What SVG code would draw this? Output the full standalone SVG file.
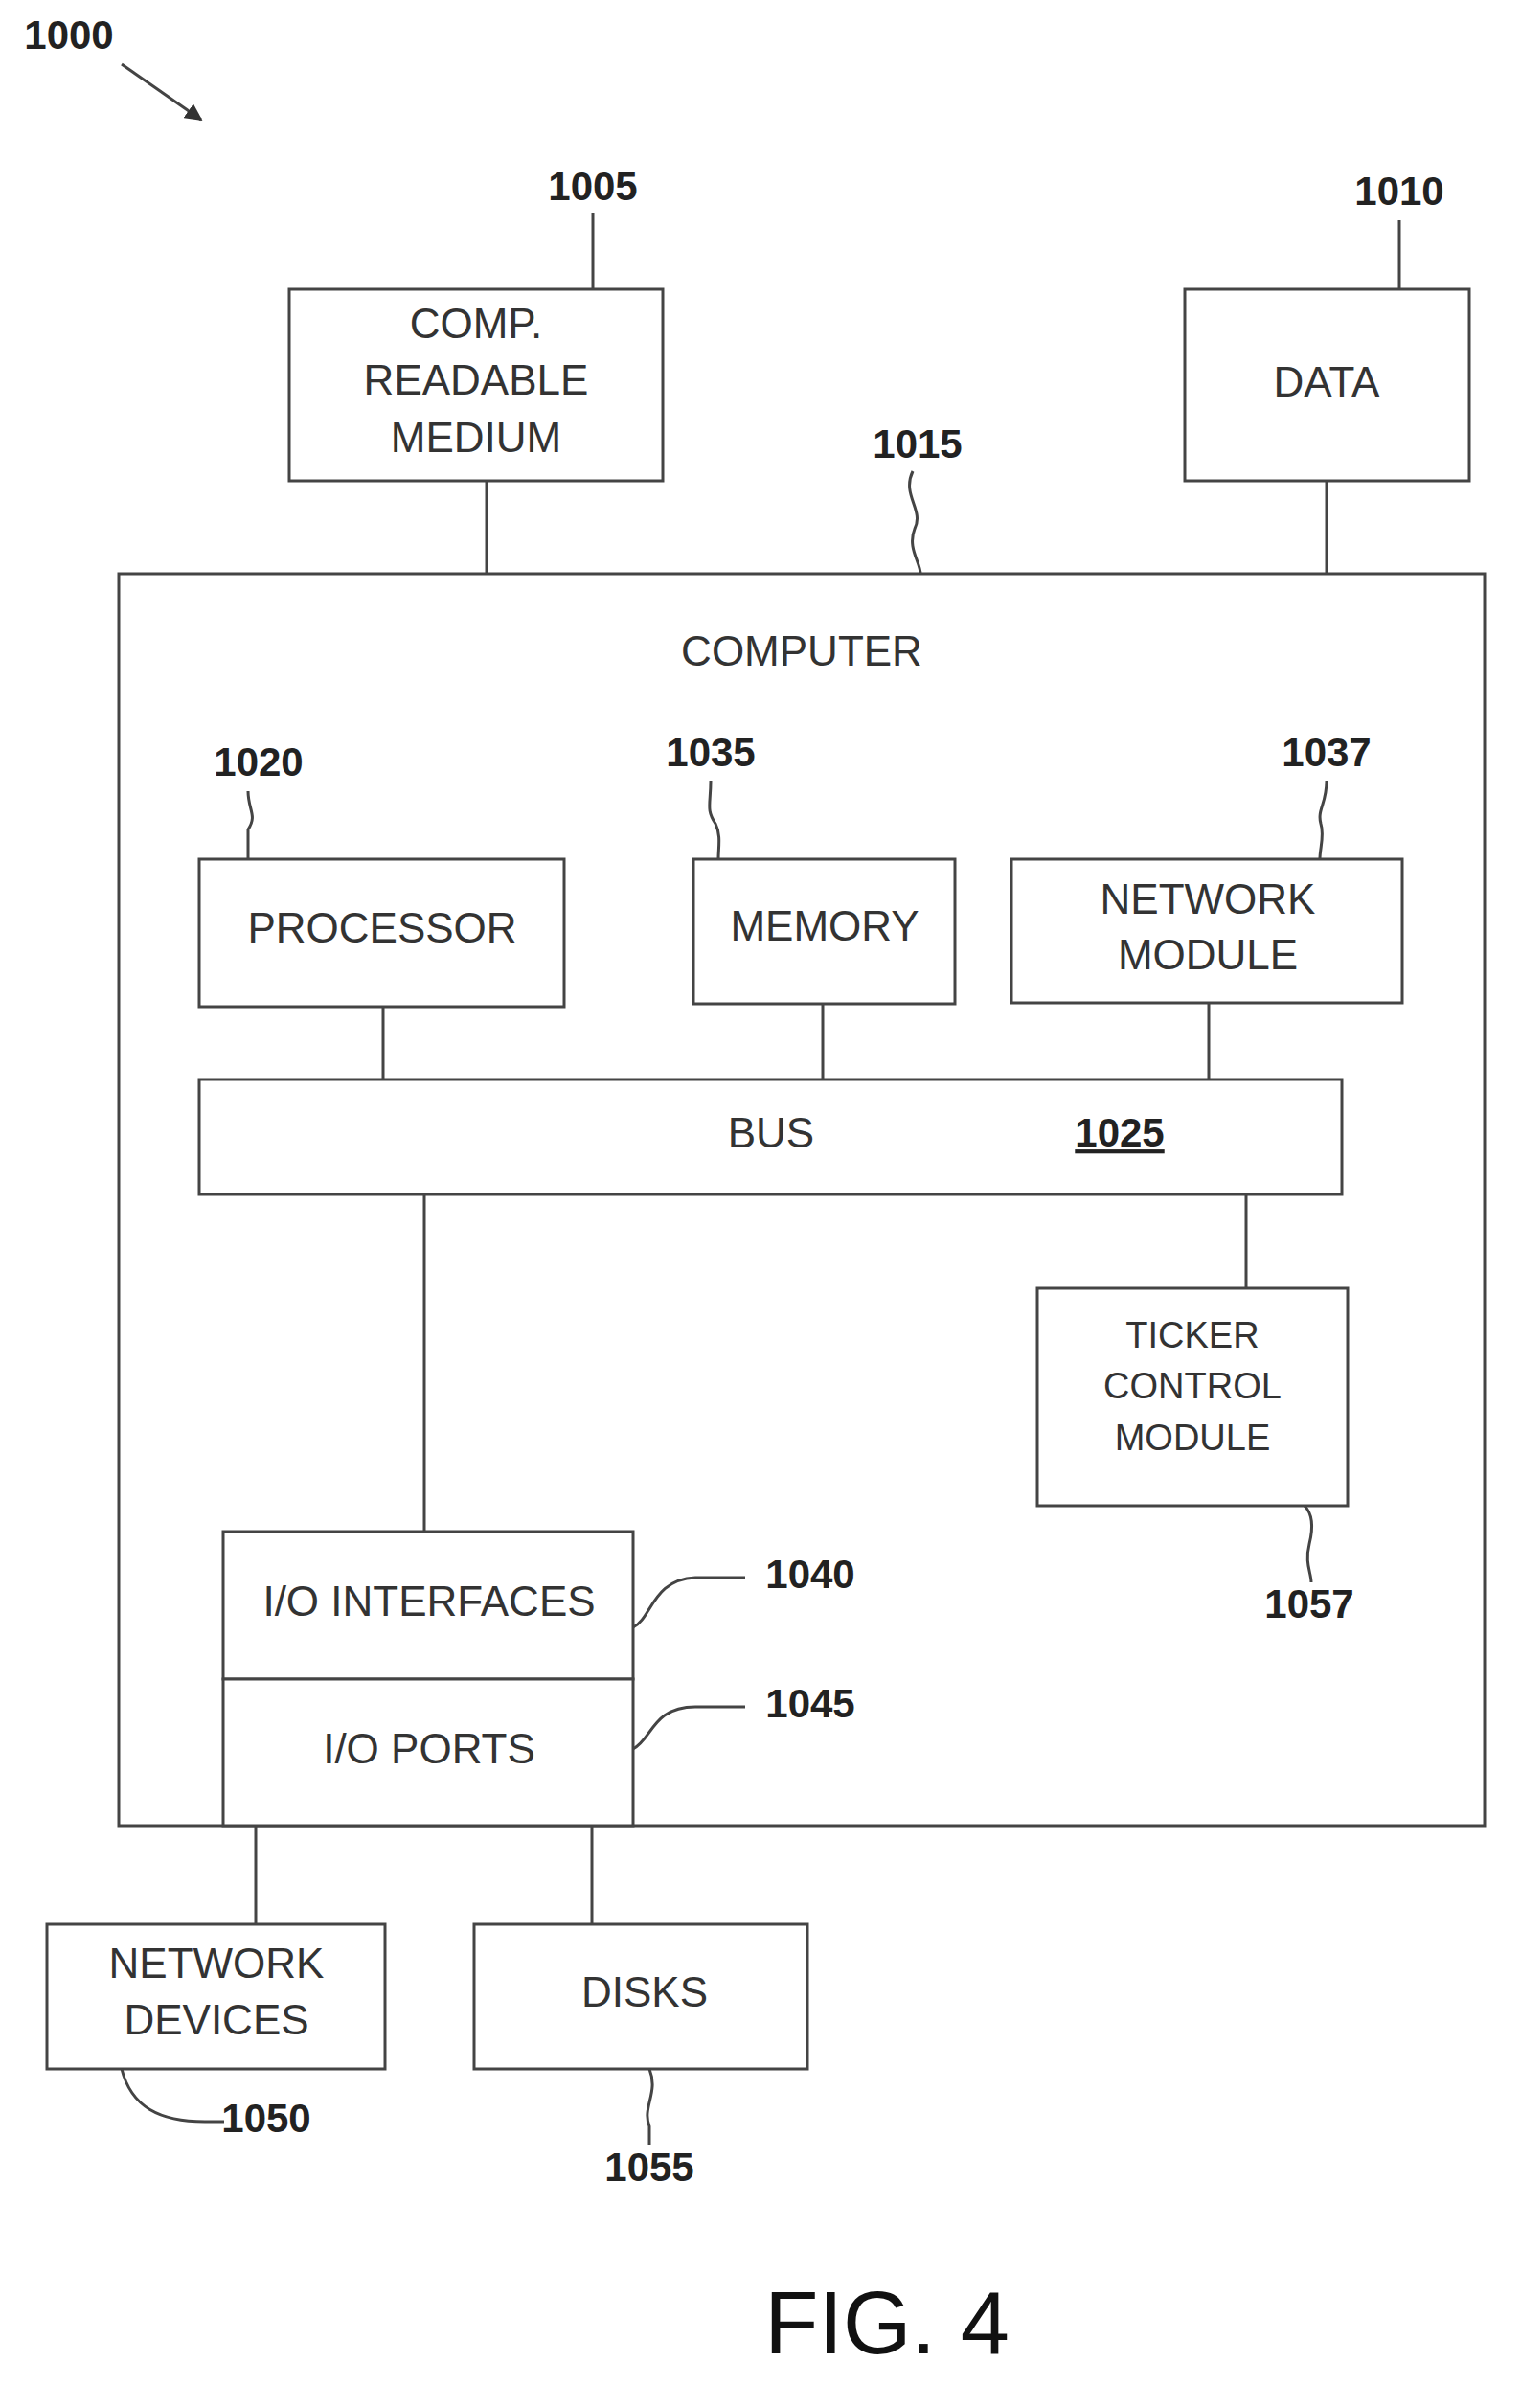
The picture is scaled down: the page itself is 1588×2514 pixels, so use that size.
<svg xmlns="http://www.w3.org/2000/svg" width="1588" height="2514" viewBox="0 0 1588 2514">
<style>
.b{fill:#fff;stroke:#444;stroke-width:3}
.l{fill:none;stroke:#444;stroke-width:3}
.t{font-family:"Liberation Sans",Arial,sans-serif;font-size:44px;fill:#333;text-anchor:middle;dominant-baseline:middle}
.s{font-size:38px}
.n{font-family:"Liberation Sans",Arial,sans-serif;font-size:42px;font-weight:bold;fill:#222;text-anchor:middle;dominant-baseline:middle}
</style>
<defs><marker id="a" viewBox="0 0 10 10" refX="9" refY="5" markerWidth="6" markerHeight="6" orient="auto"><path d="M0,0L10,5L0,10z" fill="#333"/></marker></defs>
<rect width="1588" height="2514" fill="#fff"/>
<g id="n1000"><text class="n" x="72" y="40">1000</text></g>
<g id="crm"><rect class="b" x="302" y="302" width="390" height="200"/><text class="t" x="497" y="341">COMP.</text><text class="t" x="497" y="400">READABLE</text><text class="t" x="497" y="460">MEDIUM</text><text class="n" x="619" y="198">1005</text></g>
<g id="data"><rect class="b" x="1237" y="302" width="297" height="200"/><text class="t" x="1385" y="402">DATA</text><text class="n" x="1461" y="203">1010</text></g>
<g id="computer"><rect class="b" x="124" y="599" width="1426" height="1307"/><text class="t" x="837" y="683">COMPUTER</text><text class="n" x="958" y="467">1015</text></g>
<g id="processor"><rect class="b" x="208" y="897" width="381" height="154"/><text class="t" x="399" y="972">PROCESSOR</text><text class="n" x="270" y="799">1020</text></g>
<g id="memory"><rect class="b" x="724" y="897" width="273" height="151"/><text class="t" x="861" y="970">MEMORY</text><text class="n" x="742" y="789">1035</text></g>
<g id="netmod"><rect class="b" x="1056" y="897" width="408" height="150"/><text class="t" x="1261" y="942">NETWORK</text><text class="t" x="1261" y="1000">MODULE</text><text class="n" x="1385" y="789">1037</text></g>
<g id="bus"><rect class="b" x="208" y="1127" width="1193" height="120"/><text class="t" x="805" y="1186">BUS</text><text class="n" x="1169" y="1186" text-decoration="underline">1025</text></g>
<g id="ticker"><rect class="b" x="1083" y="1345" width="324" height="227"/><text class="t s" x="1245" y="1397">TICKER</text><text class="t s" x="1245" y="1450">CONTROL</text><text class="t s" x="1245" y="1504">MODULE</text><text class="n" x="1367" y="1678">1057</text></g>
<g id="iointerfaces"><rect class="b" x="233" y="1599" width="428" height="154"/><text class="t" x="448" y="1675">I/O INTERFACES</text><text class="n" x="846" y="1647">1040</text></g>
<g id="ioports"><rect class="b" x="233" y="1753" width="428" height="153"/><text class="t" x="448" y="1829">I/O PORTS</text><text class="n" x="846" y="1782">1045</text></g>
<g id="netdev"><rect class="b" x="49" y="2009" width="353" height="151"/><text class="t" x="226" y="2053">NETWORK</text><text class="t" x="226" y="2112">DEVICES</text><text class="n" x="278" y="2215">1050</text></g>
<g id="disks"><rect class="b" x="495" y="2009" width="348" height="151"/><text class="t" x="673" y="2083">DISKS</text><text class="n" x="678" y="2266">1055</text></g>
<g id="fig"><text class="t" x="926" y="2433" style="font-size:92px;fill:#111">FIG. 4</text></g>
<g id="connectors">
<path class="l" d="M127,67L210,125" marker-end="url(#a)" stroke-width="4"/>
<path class="l" d="M619,222V302M1461,230V302M508,502V599M1385,502V599"/>
<path class="l" d="M953,492c-12,25 12,40 2,60c-8,20 6,35 6,47"/>
<path class="l" d="M259,826c0,20 10,25 0,40v31M742,815c0,25 -5,30 5,45c6,12 3,25 3,37M1385,815c0,25 -10,30 -6,45c4,12 -1,25 -1,37"/>
<path class="l" d="M400,1051V1127M859,1048V1127M1262,1047V1127M443,1247V1599M1301,1247V1345"/>
<path class="l" d="M1362,1572c8,8 10,20 5,40c-5,20 2,30 2,40"/>
<path class="l" d="M661,1699c20,-10 20,-50 65,-52h52M661,1826c20,-10 20,-44 65,-44h52"/>
<path class="l" d="M267,1906V2009M618,1906V2009"/>
<path class="l" d="M127,2160c10,40 40,55 87,55h20M678,2160c10,25 -8,40 0,60v19"/>
</g>
</svg>
